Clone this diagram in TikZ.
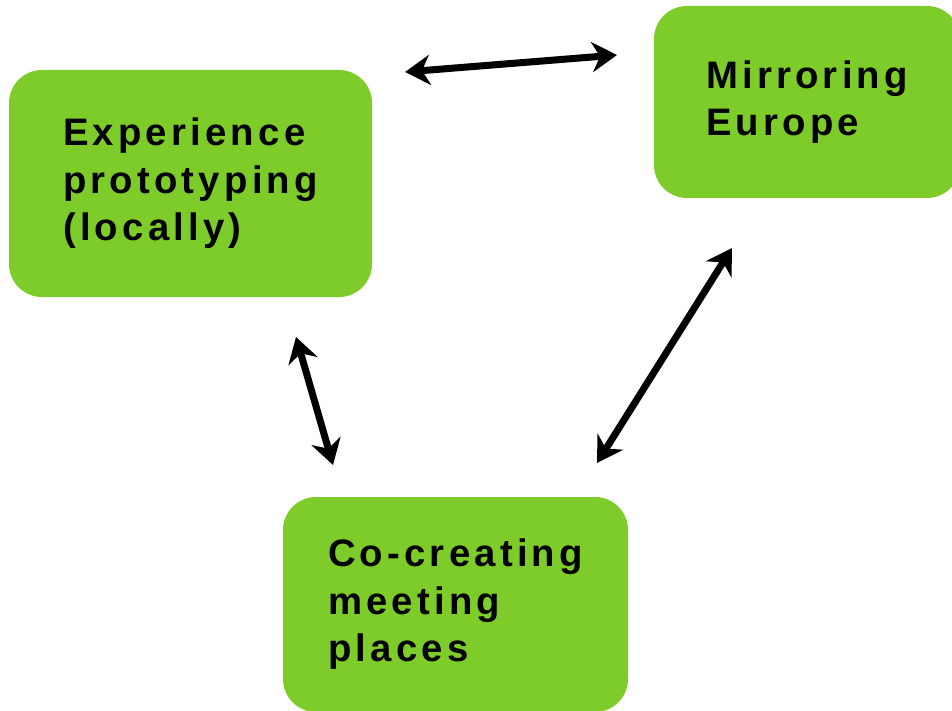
\documentclass[tikz,border=0pt]{standalone}
\usepackage{fontspec}
\newfontfamily\stagefont{Liberation Sans}[LetterSpace=11]
\usetikzlibrary{arrows.meta}
\definecolor{stagegreen}{RGB}{126,204,41}

\begin{document}
\begin{tikzpicture}
[x=1pt,y=-1pt,>={Stealth[length=25pt,width=30pt,inset=8pt]},
stage/.style = {fill = stagegreen, rounded corners = 33pt, align = left, inner sep = 0pt,
  font = \stagefont\bfseries\fontsize{38.3}{47.5}\selectfont},
link/.style = {<->, line width = 7pt},]
\useasboundingbox (0,0) rectangle (952,711);
\node (E) at (190.5,183.5)[stage,minimum width=363pt,minimum height=227pt] {Experience\\prototyping\\(locally)};
\node (M) at (807,102)[stage,minimum width=306pt,minimum height=192pt] {Mirroring\\Europe};
\node (C) at (455.5,604.5)[stage,minimum width=345pt,minimum height=215pt] {Co-creating\\meeting\\places};
% arrow ends
\coordinate (EM1) at (405,72);
\coordinate (EM2) at (617,55);
\coordinate (EC1) at (296,337);
\coordinate (EC2) at (333,465);
\coordinate (MC1) at (732,248);
\coordinate (MC2) at (597,463);
\draw[link] (EM1)--(EM2);
\draw[link] (EC1)--(EC2);
\draw[link] (MC1)--(MC2);
\end{tikzpicture}
\end{document}
